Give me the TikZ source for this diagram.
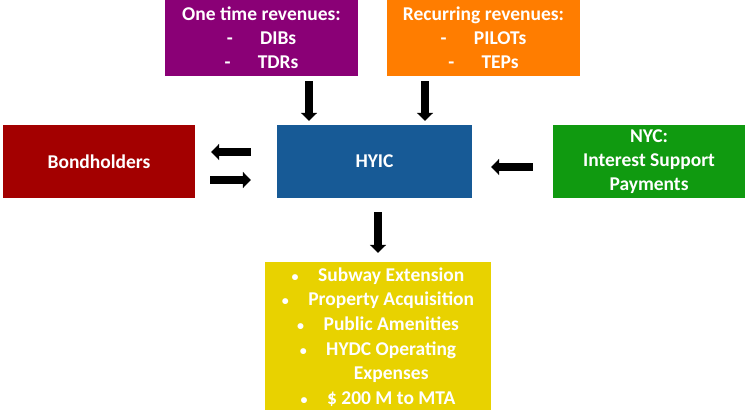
\documentclass[tikz,border=0pt]{standalone}
\usepackage{fontspec}
\setmainfont{Carlito}
\usetikzlibrary{arrows.meta}
\definecolor{cPurple}{RGB}{138,0,118}
\definecolor{cOrange}{RGB}{255,125,0}
\definecolor{cRed}{RGB}{163,0,0}
\definecolor{cBlue}{RGB}{23,90,150}
\definecolor{cGreen}{RGB}{16,154,16}
\definecolor{cYellow}{RGB}{232,210,0}
\newcommand{\bul}{{\fontsize{14}{14}\selectfont •}\hspace{1.0em}}
\begin{document}
\begin{tikzpicture}[x=1pt,y=1pt,
  box/.style={rectangle, inner sep=0pt, text=white, align=center,
    font=\fontsize{19.5}{24}\selectfont\bfseries},
  arr/.style={line width=7.5pt, -{Triangle[width=16pt,length=8pt]}, black}]
  \useasboundingbox (0,0) rectangle (747,411);
  % revenue sources on top
  \node[box, fill=cPurple, minimum width=193pt, minimum height=76pt, text depth=0pt] (p) at (261.5,373)
    {One time revenues:\\ -\hspace{1.4em}DIBs\\ -\hspace{1.4em}TDRs};
  \node[box, fill=cOrange, minimum width=193pt, minimum height=76pt, text depth=0pt] (o) at (483.5,373)
    {Recurring revenues:\\ -\hspace{1.4em}PILOTs\\ -\hspace{1.4em}TEPs};
  % middle row
  \node[box, fill=cRed, minimum width=192pt, minimum height=73pt] (b) at (99,249.5) {Bondholders};
  \node[box, fill=cBlue, minimum width=195pt, minimum height=73pt] (h) at (374.5,249.5) {HYIC};
  \node[box, fill=cGreen, minimum width=192pt, minimum height=73pt] (n) at (649,249.5)
    {NYC:\\ Interest Support\\ Payments};
  % uses of funds
  \node[box, fill=cYellow, minimum width=226pt, minimum height=148pt, text depth=0pt,
        font=\fontsize{19.5}{24.6}\selectfont\bfseries] (u) at (378,75)
    {\bul Subway Extension\\
     \bul Property Acquisition\\
     \bul Public Amenities\\
     \bul HYDC Operating\\
     \phantom{\bul}Expenses\\
     \bul\$ 200 M to MTA};
  % flows
  \draw[arr, shorten <=5pt, shorten >=4pt] ([xshift=47.5pt]p.south) -- ([xshift=-65.5pt]h.north);
  \draw[arr, shorten <=5pt, shorten >=4pt] ([xshift=-58.5pt]o.south) -- ([xshift=50.5pt]h.north);
  \draw[arr, shorten <=26pt, shorten >=16pt] ([yshift=9.5pt]h.west) -- ([yshift=9.5pt]b.east);
  \draw[arr, shorten <=15pt, shorten >=26pt] ([yshift=-18.5pt]b.east) -- ([yshift=-18.5pt]h.west);
  \draw[arr, shorten <=20pt, shorten >=19pt] ([yshift=-5.5pt]n.west) -- ([yshift=-5.5pt]h.east);
  \draw[arr, shorten <=14pt, shorten >=9pt] ([xshift=3.5pt]h.south) -- (u.north);
\end{tikzpicture}
\end{document}
